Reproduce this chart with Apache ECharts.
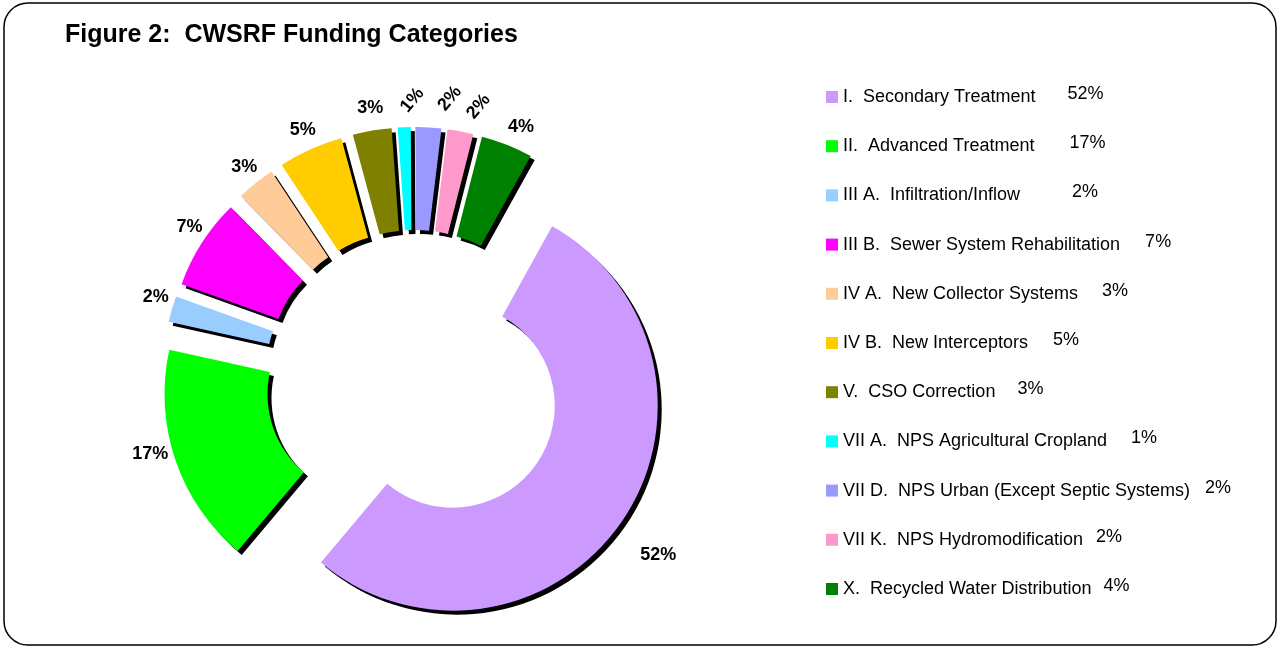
<!DOCTYPE html>
<html>
<head>
<meta charset="utf-8">
<script src="https://cdn.jsdelivr.net/npm/echarts@6/dist/echarts.min.js"></script>
<style>
html,body{margin:0;padding:0;background:#fff;}
#chart{width:1281px;height:649px;}
</style>
</head>
<body>
<div id="chart"></div>
<script>
// categories in drawing order, clockwise from the big slice
let categories = [
	'I.  Secondary Treatment',
	'II.  Advanced Treatment',
	'III A.  Infiltration/Inflow',
	'III B.  Sewer System Rehabilitation',
	'IV A.  New Collector Systems',
	'IV B.  New Interceptors',
	'V.  CSO Correction',
	'VII A.  NPS Agricultural Cropland',
	'VII D.  NPS Urban (Except Septic Systems)',
	'VII K.  NPS Hydromodification',
	'X.  Recycled Water Distribution'
];
let percents = [52, 17, 2, 7, 3, 5, 3, 1, 2, 2, 4];

// styles (not data): colours, label placement tweaks, legend gaps
let colors = ['#CC99FF','#00FF00','#99CCFF','#FF00FF','#FFCC99','#FFCC00','#808000','#00FFFF','#9999FF','#FF99CC','#008000'];
let labelRotate = [0,0,0,0,0,0,0,50,50,50,0];
let labelLen1 = [59,-19,44,29,21,21,23,37,19,15,19];
let labelLen2 = [-35,20,-44,-30,-20,-19,-20,-23,7,2,-11];
let legendPctGap = [32,35,52,25,24,25,22,24,15,13,12];

let font = '"Liberation Sans", Arial, sans-serif';

let rich = { n: { fontSize: 18, fontFamily: font, color: '#000' } };
legendPctGap.forEach((g, i) => {
	rich['p' + i] = { fontSize: 18, fontFamily: font, color: '#000', padding: [0, 0, 6, g] };
});

let pieData = categories.map((c, i) => ({
	name: c,
	value: percents[i],
	selected: true,
	itemStyle: { color: colors[i] },
	label: { rotate: labelRotate[i] },
	labelLine: { show: false, length: labelLen1[i], length2: labelLen2[i] }
}));

let myChart = echarts.init(document.getElementById('chart'));
myChart.setOption({
	animation: false,
	textStyle: { fontFamily: font },
	title: {
		text: 'Figure 2:  CWSRF Funding Categories',
		left: 60, top: 18,
		textStyle: { fontSize: 25, fontWeight: 'bold', color: '#000', fontFamily: font }
	},
	graphic: [{
		type: 'rect',
		shape: { x: 4, y: 3, width: 1272, height: 642, r: 24 },
		style: { fill: 'none', stroke: '#000', lineWidth: 1.5 },
		silent: true
	}],
	legend: {
		orient: 'vertical',
		left: 826, top: 85,
		padding: 0,
		itemWidth: 12, itemHeight: 12,
		itemGap: 28.2,
		icon: 'rect',
		selectedMode: false,
		formatter: function (name) {
			let i = categories.indexOf(name);
			return '{n|' + name + '}{p' + i + '|' + percents[i] + '%}';
		},
		textStyle: { rich: rich, fontSize: 18, color: '#000' }
	},
	series: [{
		type: 'pie',
		center: [414, 379],
		radius: [102, 205],
		startAngle: 61,
		clockwise: true,
		selectedMode: 'multiple',
		selectedOffset: 47,
		avoidLabelOverlap: false,
		emphasis: { scale: false, disabled: true },
		itemStyle: {
			shadowColor: '#000',
			shadowBlur: 0,
			shadowOffsetX: 4,
			shadowOffsetY: 4
		},
		label: {
			show: true,
			position: 'outside',
			formatter: '{c}%',
			fontSize: 18,
			fontWeight: 'bold',
			color: '#000',
			fontFamily: font
		},
		data: pieData
	}]
});
</script>
</body>
</html>
